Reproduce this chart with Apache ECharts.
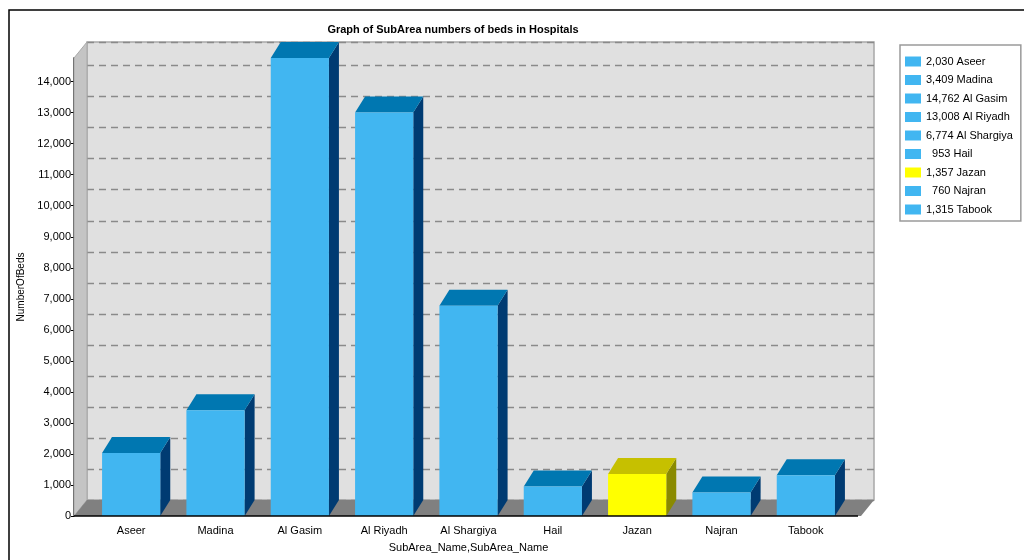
<!DOCTYPE html>
<html>
<head>
<meta charset="utf-8">
<script src="https://cdn.jsdelivr.net/npm/echarts@6/dist/echarts.min.js"></script>
<style>
  html, body { margin: 0; padding: 0; background: #fff; }
  #main { width: 1024px; height: 560px; }
</style>
</head>
<body>
<div id="main"></div>
<script>
// data
const areas = ['Aseer', 'Madina', 'Al Gasim', 'Al Riyadh', 'Al Shargiya', 'Hail', 'Jazan', 'Najran', 'Tabook']
const beds = [2030, 3409, 14762, 13008, 6774, 953, 1357, 760, 1315]
const yTicks = [0, 1000, 2000, 3000, 4000, 5000, 6000, 7000, 8000, 9000, 10000, 11000, 12000, 13000, 14000]
const highlighted = 'Jazan'

// 3d look
const blue = { front: '#41b6f1', top: '#0077b1', side: '#003b72' }
const yellow = { front: '#ffff00', top: '#c6c000', side: '#8a8a00' }
const font = 'Liberation Sans, Arial, sans-serif'

// front plane (axis line at x=74, floor front edge at y=516)
const FL = 74, FR = 861, BASE = 516, TOP = 58
const DX = 13, DY = 16     // wall / floor depth
const BDX = 10, BDY = 16   // bar depth

const fmt = v => v.toLocaleString('en-US')
const yMax = Math.max(...beds)

const chart = echarts.init(document.getElementById('main'))

const renderBar = (params, api) => {
  const x = api.value(0)
  const v = api.value(1)
  const p0 = api.coord([x, 0])
  const p1 = api.coord([x, v])
  const w = api.size([1, 0])[0] * 0.69
  const xl = p0[0] - w / 2, xr = p0[0] + w / 2
  const c = areas[x] === highlighted ? yellow : blue
  return {
    type: 'group',
    children: [
      { type: 'polygon', shape: { points: [[xr, p1[1]], [xr + BDX, p1[1] - BDY], [xr + BDX, p0[1] - BDY], [xr, p0[1]]] }, style: { fill: c.side } },
      { type: 'polygon', shape: { points: [[xl, p1[1]], [xl + BDX, p1[1] - BDY], [xr + BDX, p1[1] - BDY], [xr, p1[1]]] }, style: { fill: c.top } },
      { type: 'rect', shape: { x: xl, y: p1[1], width: w, height: p0[1] - p1[1] }, style: { fill: c.front } }
    ]
  }
}

const series = areas.map((a, i) => ({
  type: 'custom',
  name: a,
  xAxisIndex: 0,
  yAxisIndex: 0,
  z: 5,
  itemStyle: { color: a === highlighted ? yellow.front : blue.front },
  renderItem: renderBar,
  encode: { x: 0, y: 1 },
  data: [[i, beds[i]]]
}))

const option = {
  animation: false,
  title: {
    text: 'Graph of SubArea numbers of beds in Hospitals',
    left: 448,
    textAlign: 'center',
    top: 19,
    textStyle: { fontFamily: font, fontSize: 11, fontWeight: 'bold', color: '#000' }
  },
  legend: {
    orient: 'vertical',
    left: 900,
    top: 45,
    padding: [11, 8, 6, 5],
    borderColor: '#9a9a9a',
    borderWidth: 1.5,
    itemWidth: 16,
    itemHeight: 10,
    itemGap: 7.5,
    icon: 'rect',
    data: areas,
    formatter: name => {
      const i = areas.indexOf(name)
      return fmt(beds[i]).padStart(5, ' ') + ' ' + name
    },
    textStyle: { fontFamily: font, fontSize: 11, lineHeight: 11, color: '#000', padding: [0, 0, 0, 0] }
  },
  grid: [
    // front plane: bars and axes
    { left: FL + 15, right: 1024 - 848, top: TOP, bottom: 560 - BASE },
    // back wall: grey panel with dashed lines
    { left: FL + DX, right: 1024 - FR - DX, top: TOP - DY, bottom: 560 - BASE + DY,
      show: true, backgroundColor: '#e0e0e0', borderColor: '#a8a8a8', borderWidth: 1.5 }
  ],
  xAxis: [
    {
      type: 'category', gridIndex: 0, data: areas,
      name: 'SubArea_Name,SubArea_Name', nameLocation: 'middle', nameGap: 26,
      nameTextStyle: { fontFamily: font, fontSize: 11, color: '#000' },
      axisLine: { show: false },
      axisTick: { alignWithLabel: true, length: 4, lineStyle: { color: '#000' } },
      axisLabel: { fontFamily: font, fontSize: 11, color: '#000', margin: 9 }
    },
    { type: 'category', gridIndex: 1, data: areas, show: false }
  ],
  yAxis: [
    {
      type: 'value', gridIndex: 0, min: 0, max: yMax, interval: 1000, offset: 15,
      name: 'NumberOfBeds', nameLocation: 'middle', nameGap: 47,
      nameTextStyle: { fontFamily: font, fontSize: 10, color: '#000' },
      axisLine: { show: true, lineStyle: { color: '#000', width: 1.5 } },
      axisTick: { show: true, length: 3, lineStyle: { color: '#000' } },
      splitLine: { show: false },
      axisLabel: {
        fontFamily: font, fontSize: 11, color: '#000', margin: 3, showMaxLabel: false,
        formatter: v => yTicks.includes(v) ? fmt(v) : ''
      }
    },
    {
      type: 'value', gridIndex: 1, min: 0, max: yMax, interval: 1000,
      axisLine: { show: false }, axisTick: { show: false }, axisLabel: { show: false },
      splitLine: { show: true, lineStyle: { color: '#8a8a8a', type: [7, 5], width: 1.3 } }
    }
  ],
  graphic: [
    // outer frame
    { type: 'rect', z: 0, shape: { x: 9, y: 10, width: 1040, height: 600 }, style: { fill: 'none', stroke: '#000', lineWidth: 1.5 } },
    // left wall
    { type: 'polygon', z: 1, shape: { points: [[FL, BASE], [FL + DX, BASE - DY], [FL + DX, TOP - DY], [FL, TOP]] }, style: { fill: '#c4c4c4', stroke: '#a8a8a8', lineWidth: 1 } },
    // floor
    { type: 'polygon', z: 1, shape: { points: [[FL, BASE], [FR, BASE], [FR + DX, BASE - DY], [FL + DX, BASE - DY]] }, style: { fill: '#808080' } },
    // x axis base line
    { type: 'line', z: 10, shape: { x1: FL, y1: BASE, x2: FR - 3, y2: BASE }, style: { stroke: '#000', lineWidth: 1.5 } }
  ],
  series: series
}

chart.setOption(option)
</script>
</body>
</html>
